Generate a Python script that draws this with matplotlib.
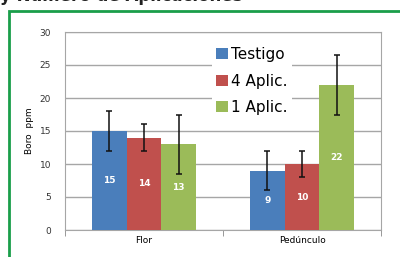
import numpy as np
import matplotlib.pyplot as plt
from matplotlib.patches import Rectangle

categories = ['Flor', 'Pedúnculo']
series = ['Testigo', '4 Aplic.', '1 Aplic.']
values = [[15, 9], [14, 10], [13, 22]]
errors = [[3, 3], [2, 2], [4.5, 4.5]]
colors = ['#4a7ebb', '#c0504d', '#9bbb59']

fig = plt.figure(figsize=(4, 2.57), dpi=100)

# green frame around the chart
fig.patches.append(Rectangle((9/400, -0.1), 1.2, (257-11)/257 + 0.1, transform=fig.transFigure,
                             fill=False, edgecolor='#1a9e4a', linewidth=2, figure=fig))
fig.text(0.0, 1.015, 'y Número de Aplicaciones', fontsize=12, fontweight='bold',
         ha='left', va='center', color='#222222')

ax = fig.add_axes([65/400, 1 - 230/257, 316/400, 198/257])

x = np.arange(len(categories))
w = 0.22
for i, s in enumerate(series):
    pos = x + (i - 1) * w
    ax.bar(pos, values[i], w, color=colors[i], label=s, zorder=3)
    ax.errorbar(pos, values[i], yerr=errors[i], fmt='none', ecolor='#111111',
                elinewidth=1.1, capsize=2.5, capthick=1.1, zorder=4)
    for p, v in zip(pos, values[i]):
        ax.text(p, v / 2, str(v), ha='center', va='center', color='white',
                fontsize=6.5, fontweight='bold', zorder=5)

ax.set_xlim(-0.5, 1.5)
ax.set_ylim(0, 30)
ax.set_yticks(range(0, 31, 5))
ax.yaxis.grid(True, color='#a6a6a6', linewidth=1, zorder=0)
ax.set_xticks(x)
ax.set_xticklabels(categories)
ax.set_xticks([-0.5, 0.5, 1.5], minor=True)
ax.tick_params(axis='x', which='major', length=0, labelsize=6.5, pad=4)
ax.tick_params(axis='x', which='minor', length=4, color='#888888', direction='out')
ax.tick_params(axis='y', length=0, labelsize=6.5, pad=10, labelcolor='#333333')
for sp in ax.spines.values():
    sp.set_color('#a6a6a6')
ax.set_ylabel('Boro  ppm', fontsize=6.5, labelpad=4)

leg = ax.legend(loc='upper left', bbox_to_anchor=(0.44, 0.985), frameon=True,
                fontsize=11, handlelength=0.75, handleheight=0.75, handletextpad=0.2,
                labelspacing=0.75, borderpad=0.3)
leg.get_frame().set_edgecolor('none')
leg.get_frame().set_facecolor('white')
leg.get_frame().set_alpha(1)
leg.set_zorder(6)

fig.savefig('out.png', dpi=100)
